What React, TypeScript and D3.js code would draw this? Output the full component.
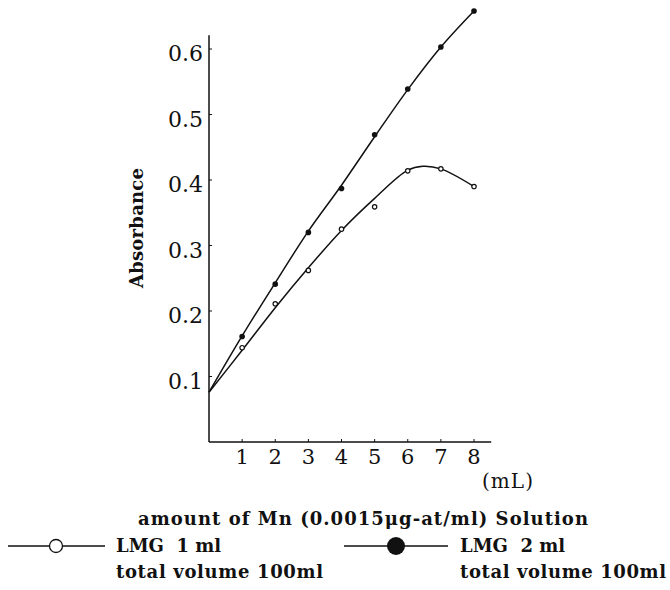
import React, { useEffect, useRef } from 'react';
import * as d3 from 'd3';

// amount of Mn solution (mL)
const amounts = [1, 2, 3, 4, 5, 6, 7, 8];
// measured absorbance
const lmg1 = [0.144, 0.211, 0.262, 0.325, 0.359, 0.414, 0.417, 0.39];
const lmg2 = [0.161, 0.241, 0.32, 0.387, 0.469, 0.539, 0.603, 0.658];

// hand-drawn fitted curves
const fit1X = [0, 1, 2, 3, 4, 5, 6, 6.45, 7, 8];
const fit1Y = [0.076, 0.14, 0.205, 0.266, 0.323, 0.372, 0.415, 0.421, 0.417, 0.39];
const fit2X = [0, 1, 2, 3, 4, 5, 6, 7, 8];
const fit2Y = [0.076, 0.162, 0.243, 0.322, 0.392, 0.466, 0.538, 0.603, 0.658];

const xTicks = [1, 2, 3, 4, 5, 6, 7, 8];
const yTicks = [0.1, 0.2, 0.3, 0.4, 0.5, 0.6];

const serif = "'DejaVu Serif', serif";

const App = () => {
  const svgRef = useRef<SVGSVGElement>(null);

  useEffect(() => {
    document.body.style.margin = '0';
    draw();
  }, []);

  const draw = () => {
    const svg = d3.select(svgRef.current);
    svg.selectAll('*').remove();

    const x = d3.scaleLinear().domain([0, 8]).range([209, 474]);
    const y = d3.scaleLinear().domain([0, 0.6]).range([442, 49]);

    const g = svg.append('g');

    // axes
    g.append('line')
      .attr('x1', x(0)).attr('x2', x(0))
      .attr('y1', y(0)).attr('y2', y(0.621))
      .attr('stroke', '#111').attr('stroke-width', 1.5);
    g.append('line')
      .attr('x1', x(0)).attr('x2', x(8.52))
      .attr('y1', y(0)).attr('y2', y(0))
      .attr('stroke', '#111').attr('stroke-width', 1.5);

    // y ticks + labels
    yTicks.forEach(t => {
      g.append('line')
        .attr('x1', x(0)).attr('x2', x(0) + 3)
        .attr('y1', y(t)).attr('y2', y(t))
        .attr('stroke', '#111').attr('stroke-width', 1);
      g.append('text')
        .attr('x', 203).attr('y', y(t) + 12)
        .attr('text-anchor', 'end')
        .style('font-family', serif).style('font-size', '22px')
        .attr('fill', '#111')
        .text(t.toFixed(1));
    });

    // x ticks + labels
    xTicks.forEach(t => {
      g.append('line')
        .attr('x1', x(t)).attr('x2', x(t))
        .attr('y1', y(0)).attr('y2', y(0) - 3)
        .attr('stroke', '#111').attr('stroke-width', 1);
      g.append('text')
        .attr('x', x(t)).attr('y', 464)
        .attr('text-anchor', 'middle')
        .style('font-family', serif).style('font-size', '21px')
        .attr('fill', '#111')
        .text(t);
    });

    g.append('text')
      .attr('x', 482).attr('y', 488)
      .attr('textLength', 51).attr('lengthAdjust', 'spacing')
      .style('font-family', serif).style('font-size', '20px')
      .attr('fill', '#111')
      .text('(mL)');

    g.append('text')
      .attr('transform', 'translate(143,228) rotate(-90)')
      .attr('text-anchor', 'middle')
      .attr('textLength', 120).attr('lengthAdjust', 'spacing')
      .style('font-family', serif).style('font-size', '18px').style('font-weight', 'bold')
      .attr('fill', '#111')
      .text('Absorbance');

    // fitted curves
    const line = d3.line<[number, number]>()
      .x(d => x(d[0]))
      .y(d => y(d[1]))
      .curve(d3.curveCatmullRom.alpha(0.5));

    const curves = [
      fit1X.map((v, i) => [v, fit1Y[i]] as [number, number]),
      fit2X.map((v, i) => [v, fit2Y[i]] as [number, number]),
    ];
    curves.forEach(c => {
      g.append('path')
        .attr('d', line(c))
        .attr('fill', 'none')
        .attr('stroke', '#111')
        .attr('stroke-width', 1.5);
    });

    // markers
    g.selectAll('.open')
      .data(amounts)
      .enter()
      .append('circle')
      .attr('cx', d => x(d))
      .attr('cy', (d, i) => y(lmg1[i]))
      .attr('r', 2.2)
      .attr('fill', '#fff')
      .attr('stroke', '#111')
      .attr('stroke-width', 1.2);

    g.selectAll('.filled')
      .data(amounts)
      .enter()
      .append('circle')
      .attr('cx', d => x(d))
      .attr('cy', (d, i) => y(lmg2[i]))
      .attr('r', 2.8)
      .attr('fill', '#111');

    // legend
    const leg = svg.append('g')
      .style('font-family', serif).style('font-weight', 'bold')
      .attr('fill', '#111');

    leg.append('text')
      .attr('x', 138).attr('y', 525)
      .attr('textLength', 450).attr('lengthAdjust', 'spacing')
      .style('font-size', '18px')
      .text('amount of Mn (0.0015\u03BCg-at/ml) Solution');

    leg.append('line')
      .attr('x1', 8).attr('x2', 105).attr('y1', 546).attr('y2', 546)
      .attr('stroke', '#111').attr('stroke-width', 1.3);
    leg.append('circle')
      .attr('cx', 56).attr('cy', 546).attr('r', 6.5)
      .attr('fill', '#fff').attr('stroke', '#111').attr('stroke-width', 1.3);

    leg.append('line')
      .attr('x1', 344).attr('x2', 448).attr('y1', 546).attr('y2', 546)
      .attr('stroke', '#111').attr('stroke-width', 1.3);
    leg.append('circle')
      .attr('cx', 396).attr('cy', 546).attr('r', 9)
      .attr('fill', '#111');

    leg.append('text')
      .attr('x', 116).attr('y', 552)
      .style('font-size', '18px')
      .attr('xml:space', 'preserve')
      .text('LMG  1 ml');
    leg.append('text')
      .attr('x', 460).attr('y', 552)
      .style('font-size', '18px')
      .attr('xml:space', 'preserve')
      .text('LMG  2 ml');

    leg.append('text')
      .attr('x', 116).attr('y', 578)
      .attr('textLength', 207).attr('lengthAdjust', 'spacing')
      .style('font-size', '18px')
      .text('total volume 100ml');
    leg.append('text')
      .attr('x', 460).attr('y', 578)
      .attr('textLength', 206).attr('lengthAdjust', 'spacing')
      .style('font-size', '18px')
      .text('total volume 100ml');
  };

  return <svg ref={svgRef} width={670} height={590} style={{ display: 'block' }}></svg>;
};

export default App;
